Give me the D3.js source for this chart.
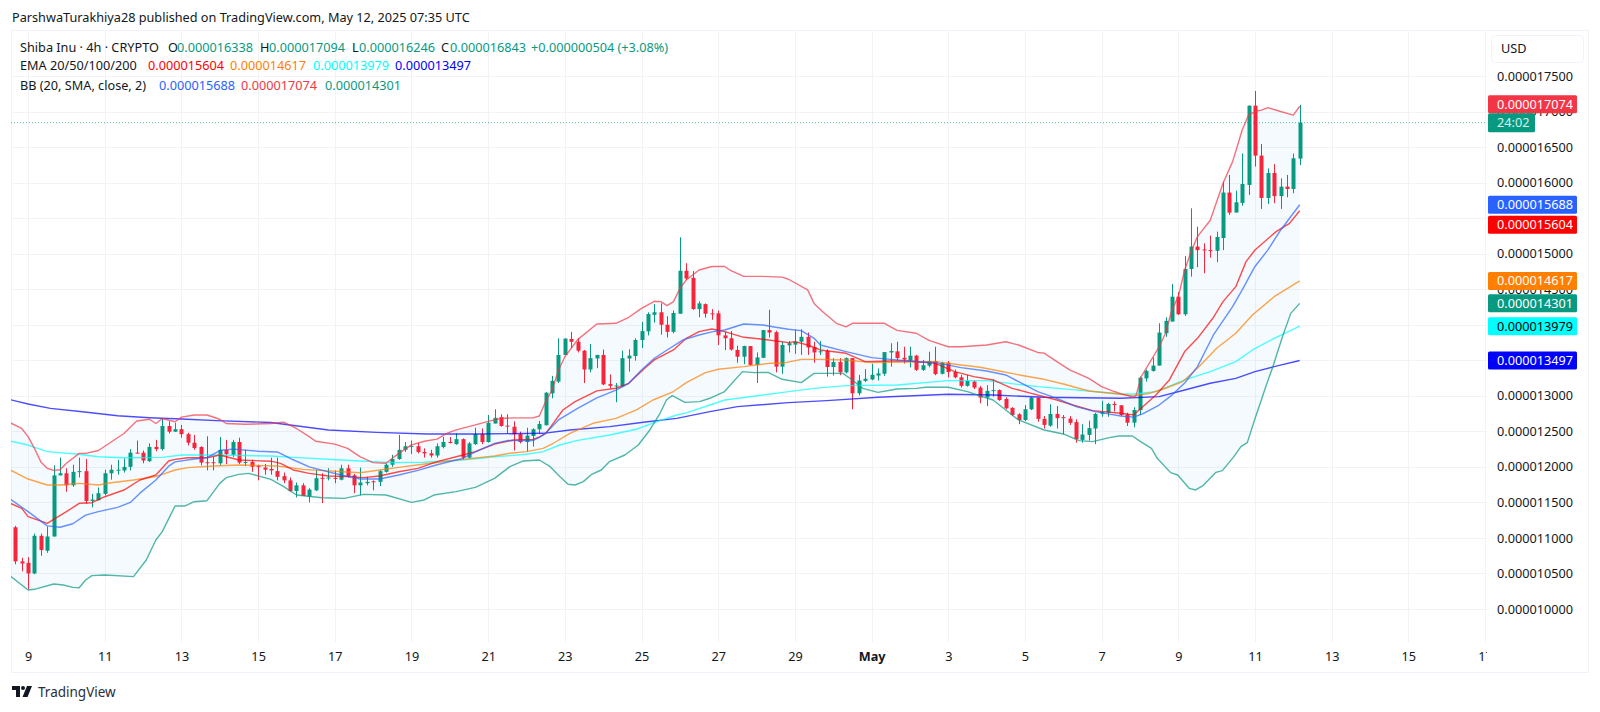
<!DOCTYPE html>
<html>
<head>
<meta charset="utf-8">
<title>Shiba Inu 4h</title>
<script src="https://cdn.jsdelivr.net/npm/d3@7"></script>
<style>
    html, body { margin: 0; padding: 0; background: #fff; }
    svg { display: block; }
    text { font-family: "Noto Sans", sans-serif; }
</style>
</head>
<body>
<svg id="chart" width="1600" height="712"></svg>
<script>
// prices are in millionths of a USD, index in the arrays = number of the 4h bar
var opens = [
    11.15,10.67,10.65,10.50,11.03,10.82,11.02,11.88,11.91,11.74,
    11.93,11.94,11.52,11.53,11.62,11.91,11.95,11.95,12.00,12.20,
    12.20,12.08,12.28,12.25,12.575,12.495,12.53,12.46,12.34,12.28,
    12.065,12.065,12.05,12.24,12.17,12.35,12.06,12.07,12.01,11.99,
    11.97,11.94,11.87,11.81,11.66,11.74,11.58,11.67,11.845,11.84,
    11.845,11.82,11.98,11.88,11.74,11.77,11.797,11.79,11.93,12.03,
    12.11,12.24,12.29,12.29,12.21,12.19,12.16,12.28,12.35,12.32,
    12.39,12.13,12.32,12.46,12.35,12.61,12.70,12.58,12.565,12.46,
    12.35,12.435,12.529,12.585,13.035,13.20,13.575,13.80,13.76,13.635,
    13.37,13.525,13.575,13.165,13.14,13.135,13.525,13.56,13.785,13.907,
    14.14,14.175,14.00,13.90,14.155,14.76,14.66,14.22,14.29,14.16,
    14.16,13.85,13.81,13.645,13.55,13.70,13.435,13.535,13.925,13.895,
    13.41,13.71,13.72,13.76,13.83,13.685,13.617,13.63,13.405,13.475,
    13.33,13.53,13.035,13.21,13.23,13.285,13.31,13.61,13.625,13.535,
    13.495,13.565,13.365,13.425,13.49,13.31,13.465,13.335,13.26,13.14,
    13.20,13.115,12.975,13.07,13.08,12.955,12.83,12.74,12.66,12.81,
    12.97,12.675,12.58,12.745,12.70,12.68,12.63,12.38,12.45,12.54,
    12.745,12.763,12.885,12.866,12.739,12.622,12.80,13.245,13.35,13.425,
    13.88,14.045,14.395,14.147,14.785,15.10,15.06,15.05,15.04,15.22,
    15.86,15.58,15.714,15.967,17.083,16.38,15.784,16.135,15.81,15.943,
    15.91,16.338
];
var highs = [
    11.17,10.72,10.73,11.06,11.06,11.16,12.02,12.13,11.98,12.03,
    12.13,12.11,11.62,11.71,11.96,12.03,12.10,12.12,12.25,12.37,
    12.23,12.33,12.38,12.68,12.64,12.62,12.59,12.48,12.45,12.29,
    12.43,12.14,12.42,12.38,12.38,12.41,12.24,12.10,12.03,12.04,
    12.13,12.13,11.92,11.85,11.78,11.77,11.70,11.96,11.91,11.98,
    11.95,12.03,12.03,11.90,11.99,11.86,11.81,11.96,12.05,12.17,
    12.45,12.35,12.37,12.34,12.26,12.24,12.33,12.42,12.42,12.47,
    12.40,12.35,12.55,12.54,12.73,12.81,12.74,12.74,12.64,12.495,
    12.55,12.543,12.646,13.05,13.28,13.81,13.81,13.90,13.81,13.645,
    13.73,13.575,13.65,13.30,13.18,13.635,13.655,13.81,14.04,14.175,
    14.29,14.30,14.12,14.20,15.23,14.865,14.755,14.33,14.30,14.22,
    14.20,13.90,13.91,13.705,13.705,13.70,13.61,13.925,14.21,13.915,
    13.76,13.77,13.93,13.935,13.89,13.76,13.77,13.655,13.53,13.53,
    13.54,13.53,13.295,13.375,13.45,13.385,13.615,13.74,13.76,13.69,
    13.69,13.575,13.505,13.62,13.69,13.48,13.49,13.37,13.295,13.295,
    13.22,13.14,13.15,13.23,13.09,12.98,12.84,12.755,12.87,12.985,
    12.98,12.715,12.88,12.855,12.73,12.715,12.67,12.60,12.65,12.76,
    12.93,12.90,12.92,12.87,12.763,12.838,13.27,13.37,13.54,14.02,
    14.105,14.574,14.46,14.968,15.638,15.38,15.146,15.254,15.31,16.014,
    16.107,15.887,16.41,17.083,17.29,16.544,16.20,16.26,16.06,16.107,
    16.41,17.094
];
var lows = [
    10.63,10.53,10.28,10.49,10.75,10.79,11.02,11.88,11.65,11.72,
    11.85,11.48,11.43,11.53,11.60,11.82,11.89,11.92,11.95,12.19,
    12.05,12.07,12.22,12.23,12.47,12.49,12.41,12.30,12.24,12.02,
    11.95,11.95,12.02,12.04,12.14,12.04,12.01,11.93,11.81,11.89,
    11.89,11.81,11.77,11.65,11.57,11.59,11.50,11.66,11.49,11.81,
    11.77,11.81,11.85,11.63,11.60,11.74,11.67,11.73,11.92,12.00,
    12.10,12.21,12.18,12.19,12.13,12.13,12.13,12.26,12.33,12.31,
    12.10,12.12,12.31,12.32,12.34,12.61,12.565,12.47,12.23,12.33,
    12.21,12.285,12.472,12.585,12.965,13.18,13.575,13.67,13.61,13.18,
    13.33,13.39,13.15,13.105,12.91,13.12,13.34,13.495,13.67,13.85,
    14.03,13.86,13.82,13.88,14.155,14.63,14.21,14.105,14.10,14.07,
    13.715,13.645,13.635,13.465,13.445,13.425,13.18,13.53,13.82,13.33,
    13.31,13.61,13.59,13.575,13.575,13.465,13.575,13.27,13.285,13.29,
    13.315,12.81,13.005,13.195,13.22,13.215,13.28,13.41,13.495,13.455,
    13.40,13.35,13.35,13.40,13.29,13.30,13.26,13.245,13.115,13.13,
    13.095,12.895,12.855,12.99,12.93,12.81,12.715,12.60,12.645,12.80,
    12.635,12.54,12.565,12.54,12.46,12.59,12.34,12.34,12.37,12.32,
    12.705,12.705,12.78,12.715,12.575,12.556,12.73,13.20,13.34,13.425,
    13.83,14.045,14.14,14.124,14.677,14.81,14.724,14.944,14.88,15.05,
    15.545,15.577,15.676,15.826,16.225,15.63,15.70,15.71,15.63,15.793,
    15.85,16.246
];
var closes = [
    10.67,10.64,10.50,11.03,10.83,11.02,11.88,11.91,11.74,11.93,
    11.94,11.52,11.54,11.63,11.91,11.96,11.96,12.00,12.20,12.19,
    12.09,12.28,12.25,12.575,12.495,12.53,12.46,12.34,12.265,12.06,
    12.06,12.06,12.24,12.18,12.35,12.06,12.07,12.00,12.00,11.96,
    11.95,11.86,11.81,11.66,11.74,11.59,11.68,11.84,11.838,11.85,
    11.84,11.98,11.86,11.74,11.78,11.79,11.79,11.94,12.03,12.11,
    12.24,12.29,12.295,12.21,12.19,12.16,12.29,12.35,12.345,12.39,
    12.13,12.33,12.46,12.35,12.62,12.69,12.575,12.57,12.46,12.35,
    12.44,12.529,12.604,13.044,13.21,13.575,13.805,13.76,13.635,13.37,
    13.53,13.575,13.16,13.14,13.145,13.53,13.565,13.785,13.91,14.15,
    14.175,14.00,13.90,14.165,14.76,14.65,14.22,14.30,14.155,14.155,
    13.85,13.81,13.65,13.55,13.70,13.435,13.54,13.925,13.89,13.41,
    13.715,13.74,13.76,13.83,13.68,13.61,13.626,13.405,13.475,13.33,
    13.53,13.035,13.215,13.24,13.295,13.315,13.615,13.63,13.53,13.51,
    13.565,13.365,13.43,13.49,13.305,13.465,13.335,13.26,13.14,13.21,
    13.115,12.975,13.07,13.08,12.94,12.825,12.73,12.66,12.81,12.975,
    12.675,12.59,12.745,12.685,12.695,12.62,12.39,12.455,12.545,12.745,
    12.77,12.885,12.87,12.73,12.622,12.80,13.255,13.35,13.425,13.89,
    14.055,14.395,14.147,14.785,15.10,15.05,15.05,15.046,15.235,15.86,
    15.577,15.723,15.98,17.083,16.38,15.784,16.135,15.81,15.943,15.91,
    16.342,16.843
];

// indicator lines as [bar, price]
var bbUpper = [[-1,12.63],[1,12.54],[2,12.425],[3,12.26],[4,12.07],[5,11.98],[6,11.95],[7,11.96],[8,12.05],[10,12.19],[11,12.19],[13,12.23],[15,12.35],[17,12.47],[19,12.645],[21,12.67],[22,12.61],[23,12.68],[25,12.635],[26,12.70],[28,12.73],[30,12.73],[32,12.67],[33,12.61],[36,12.60],[40,12.61],[42,12.63],[44,12.54],[46,12.425],[47,12.36],[50,12.32],[52,12.26],[54,12.14],[56,12.06],[58,12.05],[60,12.19],[62,12.31],[64,12.36],[66,12.39],[67.5,12.47],[69,12.52],[72,12.59],[74,12.64],[76,12.68],[78,12.69],[81,12.69],[82,12.716],[83,12.92],[84,13.08],[85,13.36],[86,13.55],[88,13.79],[91,14.01],[94,14.02],[96,14.105],[98,14.23],[100,14.33],[101,14.325],[102,14.27],[103,14.325],[104,14.51],[105,14.63],[107,14.77],[109,14.82],[111,14.82],[112,14.76],[114,14.68],[117,14.68],[120,14.67],[121,14.64],[124,14.49],[125,14.30],[126.4,14.18],[128.5,14.02],[130,13.97],[131,14.02],[134,14.02],[136,14.02],[138,13.92],[141,13.88],[143,13.78],[146,13.69],[148,13.69],[152,13.715],[155,13.76],[157,13.715],[160,13.61],[161,13.60],[163,13.48],[165,13.365],[168,13.245],[170,13.13],[172,13.06],[173,13.03],[175,12.98],[175.4,13.01],[176.2,13.27],[179,13.69],[180,13.88],[181,14.21],[182,14.395],[183,14.77],[184,15.03],[185,15.24],[187,15.47],[189,15.99],[190.5,16.295],[192,16.74],[193,16.95],[194,17.0],[195,17.02],[196,17.055],[198,17.0],[200,16.95],[201,17.074]];
var bbMiddle = [[-1,11.56],[2,11.37],[5,11.17],[7,11.15],[9,11.20],[11,11.32],[13,11.37],[16,11.43],[18,11.50],[19.5,11.63],[22,11.815],[24,12.01],[25,12.07],[28,12.11],[30,12.13],[32,12.23],[34,12.25],[38,12.22],[41,12.21],[43.5,12.10],[46,12.00],[49,11.93],[51,11.885],[54,11.83],[57,11.83],[60,11.885],[63,11.95],[66,12.03],[70,12.12],[72,12.21],[75,12.33],[77,12.37],[81,12.37],[82,12.416],[83,12.472],[85,12.66],[88,12.824],[91,12.97],[94,13.08],[96,13.176],[98,13.364],[100,13.528],[102,13.645],[104.5,13.786],[107,13.856],[109,13.90],[111,13.926],[114,14.01],[117,13.997],[119,13.964],[121,13.936],[123,13.917],[125,13.809],[126,13.715],[130,13.621],[134,13.537],[137,13.513],[141,13.48],[144,13.467],[148,13.396],[152,13.349],[155,13.293],[157,13.199],[160,13.059],[163,12.965],[166,12.847],[169,12.777],[171,12.745],[173,12.716],[175,12.70],[176.5,12.75],[179,12.87],[181,13.01],[183,13.18],[185,13.41],[187.5,13.856],[190.5,14.255],[192,14.49],[194,14.82],[196,15.05],[198,15.33],[201,15.688]];
var bbLower = [[-1,10.478],[2,10.267],[3,10.277],[6,10.352],[7.5,10.338],[9,10.305],[10,10.30],[11,10.408],[12,10.469],[14,10.478],[18.5,10.455],[20.5,10.689],[22,10.971],[23,11.088],[25,11.449],[26.5,11.449],[28,11.51],[30,11.524],[32,11.768],[33,11.848],[35,11.895],[36.5,11.909],[40,11.824],[42,11.721],[44,11.604],[48,11.566],[51.5,11.557],[54.5,11.613],[58,11.604],[62,11.501],[64,11.534],[65.5,11.604],[69,11.651],[72,11.712],[75,11.838],[77.4,12.003],[79.5,12.083],[82,12.097],[83.7,12.003],[85.2,11.863],[86.5,11.755],[87.6,11.745],[88.9,11.792],[90.2,11.895],[91.7,11.956],[93,12.074],[95.4,12.167],[97.5,12.308],[99.3,12.519],[100.9,12.754],[101.9,12.941],[102.8,13.002],[104.8,12.908],[107.1,12.918],[108.7,12.965],[111,13.06],[113.8,13.34],[115.5,13.326],[117.8,13.33],[120,13.232],[123,13.185],[125,13.316],[129.5,13.316],[131,13.223],[132.6,13.105],[135,13.049],[138,13.096],[141,13.105],[142.5,13.12],[146,13.12],[149,13.059],[151,12.998],[153,12.941],[155,12.801],[157,12.66],[161,12.519],[164,12.463],[166.5,12.369],[168.6,12.355],[171.2,12.411],[172.7,12.434],[174.8,12.434],[176.1,12.355],[177.8,12.261],[178.7,12.12],[180.8,11.919],[181.9,11.886],[183.7,11.698],[184.7,11.675],[185.8,11.731],[187.9,11.923],[188.9,11.947],[190.7,12.144],[191.8,12.284],[192.8,12.341],[194.1,12.706],[195,12.941],[195.7,13.13],[196.8,13.41],[198.3,13.83],[199.6,14.16],[201,14.301]];
var ema20 = [[-1,11.496],[1,11.416],[2,11.299],[5,11.205],[6,11.262],[8,11.369],[10,11.487],[12,11.496],[14,11.58],[17,11.674],[19.5,11.815],[22,11.885],[24,12.082],[25,12.106],[27,12.129],[30,12.129],[32,12.167],[35,12.096],[40,12.08],[41.5,12.05],[43.5,11.956],[46,11.909],[49,11.871],[52,11.862],[54.5,11.848],[57,11.871],[60,11.932],[63,11.979],[66,12.073],[69,12.143],[72,12.214],[75,12.321],[78,12.378],[81,12.387],[82,12.42],[83,12.472],[84,12.59],[85.7,12.80],[87.6,12.918],[91,13.07],[94,13.106],[96,13.176],[98.5,13.387],[100,13.504],[103,13.645],[105,13.809],[107,13.903],[109,13.94],[111,13.903],[114,13.823],[117,13.795],[121,13.748],[122,13.762],[124,13.715],[126,13.645],[130,13.598],[133,13.481],[137,13.49],[140,13.49],[144,13.457],[147,13.34],[150,13.27],[153,13.223],[156,13.105],[159,13.035],[163,12.941],[165.5,12.871],[168.6,12.791],[173,12.754],[175,12.731],[178.5,13.012],[180.6,13.223],[183,13.622],[185,13.809],[187.4,14.091],[189,14.325],[191,14.536],[192.6,14.888],[194,15.052],[197.3,15.31],[199.4,15.427],[201,15.604]];
var ema50 = [[-1,11.965],[2,11.829],[5,11.745],[7,11.745],[10,11.768],[13,11.745],[15,11.777],[18.5,11.815],[22,11.862],[25,11.956],[27,11.989],[31,12.012],[35,12.026],[41,12.012],[45,11.965],[54,11.918],[57,11.956],[60,11.993],[64,12.04],[70,12.106],[75,12.153],[77.4,12.191],[80,12.214],[82.6,12.261],[84.2,12.332],[86.8,12.472],[90.4,12.613],[94,12.683],[97.2,12.801],[99.8,12.941],[103,13.06],[105,13.185],[108,13.326],[110,13.373],[114,13.41],[118,13.457],[120,13.457],[123,13.513],[126,13.513],[130,13.504],[134,13.467],[137,13.471],[144,13.481],[148,13.434],[151,13.401],[154,13.349],[158,13.279],[161,13.232],[164,13.166],[168,13.068],[173,13.021],[175,12.998],[177.5,13.035],[180,13.106],[182.7,13.2],[185,13.387],[188,13.669],[191,13.88],[193.6,14.138],[197,14.395],[201,14.617]];
var ema100 = [[-1,12.368],[2,12.307],[5,12.214],[9.5,12.181],[13,12.143],[17,12.129],[23,12.134],[26,12.167],[31.5,12.167],[40,12.153],[43.5,12.134],[51,12.097],[59,12.059],[64,12.064],[70,12.097],[75,12.143],[77.4,12.158],[80,12.177],[82.6,12.214],[85.2,12.308],[87.8,12.369],[93,12.449],[97.2,12.529],[100.4,12.636],[103.5,12.73],[105,12.76],[108.7,12.871],[111,12.941],[117,13.012],[121,13.059],[125,13.105],[130,13.143],[138,13.152],[146,13.213],[152,13.213],[160,13.129],[165,13.091],[173,13.026],[175,13.026],[178.5,13.059],[183,13.223],[187,13.34],[191,13.481],[193.6,13.645],[197,13.809],[201,13.979]];
var ema200 = [[-1,12.95],[2,12.884],[5.5,12.823],[10.5,12.776],[16,12.72],[21,12.692],[26,12.673],[31.5,12.65],[40,12.625],[49,12.518],[56.5,12.486],[64.5,12.462],[72,12.462],[82.6,12.472],[86.8,12.519],[93,12.566],[98.3,12.627],[103.5,12.683],[108.7,12.777],[113,12.848],[121,12.904],[127,12.932],[135,12.979],[146,13.021],[153,13.012],[161,12.979],[173,12.965],[179,12.988],[183,13.082],[187,13.176],[191,13.246],[194,13.34],[197,13.411],[201,13.497]];

var priceTicks = [10,10.5,11,11.5,12,12.5,13,13.5,14,14.5,15,15.5,16,16.5,17,17.5];
// labels under the tags that the picture does not show at all
var hiddenTicks = [13.5,14,15.5];
// one date label every 12 bars, the first is Apr 9 00:00
var dateLabels = ['9','11','13','15','17','19','21','23','25','27','29','May','3','5','7','9','11','13','15','17'];
var dateBars = dateLabels.map(function(d, i) { return 2 + i * 12; });

var legendOhlc = [['O','0.000016338'],['H','0.000017094'],['L','0.000016246'],['C','0.000016843']];
var tagNames = ['bbUpper','bbMiddle','ema20','ema50','bbLower','ema100','ema200'];
var tagPrices = [17.074,15.688,15.604,14.617,14.301,13.979,13.497];
var lastPrice = 16.843;

var green = '#089981', red = '#f7253c';
var colors = {
    bbUpper: '#f23645', bbMiddle: '#2962ff', bbLower: '#089981',
    ema20: '#ff0000', ema50: '#ff7f00', ema100: '#00ffff', ema200: '#0000ff'
};
var tagNudge = { bbUpper: -2, ema20: 14 };

var svg = d3.select('#chart');
var paneLeft = 11, paneRight = 1487, paneTop = 30, paneBottom = 642;
var fontSize = 12.7;

var x = d3.scaleLinear().domain([-0.673, 230.31]).range([paneLeft, paneRight]);
var y = d3.scaleLinear().domain([10, 17.5]).range([609, 76]);
var fmt = function(p) { return (p * 1e-6).toFixed(9); };

svg.append('rect').attr('x', 11.5).attr('y', 30.5).attr('width', 1577).attr('height', 642)
    .attr('fill', '#fff').attr('stroke', '#f0f3fa');

var defs = svg.append('defs');
defs.append('clipPath').attr('id', 'pane').append('rect')
    .attr('x', paneLeft).attr('y', paneTop).attr('width', paneRight - paneLeft).attr('height', paneBottom - paneTop);
defs.append('clipPath').attr('id', 'dates').append('rect')
    .attr('x', paneLeft).attr('y', paneBottom).attr('width', paneRight - paneLeft).attr('height', 30);

// grid
var grid = svg.append('g').attr('stroke', '#f2f3f6').attr('stroke-width', 1);
grid.selectAll('.h').data(priceTicks).enter().append('line')
    .attr('x1', paneLeft).attr('x2', paneRight)
    .attr('y1', function(d) { return Math.round(y(d)) + 0.5; })
    .attr('y2', function(d) { return Math.round(y(d)) + 0.5; });
grid.selectAll('.v').data(dateBars).enter().append('line')
    .attr('y1', paneTop).attr('y2', paneBottom)
    .attr('x1', function(d) { return Math.round(x(d)) + 0.5; })
    .attr('x2', function(d) { return Math.round(x(d)) + 0.5; });

var pane = svg.append('g').attr('clip-path', 'url(#pane)');

var line = d3.line()
    .x(function(d) { return x(d[0]); })
    .y(function(d) { return y(d[1]); });

// band fill between upper and lower
pane.append('path')
    .attr('d', line(bbUpper.concat(bbLower.slice().reverse())) + 'Z')
    .attr('fill', '#2196f3').attr('fill-opacity', 0.05);

// last price line
pane.append('line').attr('x1', paneLeft).attr('x2', paneRight)
    .attr('y1', y(lastPrice)).attr('y2', y(lastPrice))
    .attr('stroke', green).attr('stroke-dasharray', '1 2').attr('stroke-opacity', 0.7);

// candles
var bars = d3.range(opens.length);
var candles = pane.selectAll('.candle').data(bars).enter().append('g');
candles.append('line')
    .attr('x1', function(i) { return Math.round(x(i)) + 0.5; })
    .attr('x2', function(i) { return Math.round(x(i)) + 0.5; })
    .attr('y1', function(i) { return y(highs[i]); })
    .attr('y2', function(i) { return y(lows[i]); })
    .attr('stroke', function(i) { return closes[i] >= opens[i] ? green : red; });
candles.append('rect')
    .attr('x', function(i) { return Math.round(x(i)) - 1.5; })
    .attr('width', 4)
    .attr('y', function(i) { return y(Math.max(opens[i], closes[i])); })
    .attr('height', function(i) { return Math.max(1, Math.abs(y(opens[i]) - y(closes[i]))); })
    .attr('fill', function(i) { return closes[i] >= opens[i] ? green : red; });

// indicators
[['ema200', ema200], ['ema100', ema100], ['ema50', ema50], ['ema20', ema20],
 ['bbUpper', bbUpper], ['bbMiddle', bbMiddle], ['bbLower', bbLower]].forEach(function(s) {
    pane.append('path')
        .attr('d', line(s[1]))
        .attr('fill', 'none')
        .attr('stroke', colors[s[0]])
        .attr('stroke-width', 1.4)
        .attr('stroke-opacity', 0.7)
        .attr('stroke-linejoin', 'round');
});

// axes
var yAxis = d3.axisRight(y)
    .tickValues(priceTicks.filter(function(d) { return hiddenTicks.indexOf(d) < 0; }))
    .tickFormat(fmt).tickSize(0).tickPadding(0);
var yG = svg.append('g').attr('transform', 'translate(1497,0)').call(yAxis);
yG.select('.domain').remove();
yG.selectAll('text').attr('font-size', fontSize).attr('fill', '#131722').style('font-family', '"Noto Sans", sans-serif');

var xAxis = d3.axisBottom(x).tickValues(dateBars)
    .tickFormat(function(d, i) { return dateLabels[i]; }).tickSize(0).tickPadding(0);
var xG = svg.append('g').attr('clip-path', 'url(#dates)').append('g')
    .attr('transform', 'translate(0,652)').call(xAxis);
xG.select('.domain').remove();
xG.selectAll('text').attr('font-size', fontSize).attr('fill', '#131722').style('font-family', '"Noto Sans", sans-serif');
xG.selectAll('.tick').filter(function(d, i) { return dateLabels[i] == 'May'; })
    .select('text').attr('font-weight', 'bold');

// price tags on the axis
var tags = svg.append('g');
tagNames.forEach(function(name, i) {
    var cy = y(tagPrices[i]) + (tagNudge[name] || 0);
    tags.append('rect').attr('x', 1488).attr('y', cy - 9).attr('width', 89).attr('height', 18)
        .attr('rx', 1.5).attr('fill', colors[name]);
    tags.append('text').attr('x', 1497).attr('y', cy + 4.5).attr('font-size', fontSize)
        .attr('fill', name == 'ema100' ? '#000' : '#fff').text(fmt(tagPrices[i]));
});
tags.append('rect').attr('x', 1488).attr('y', y(lastPrice) - 9.5).attr('width', 47).attr('height', 19)
    .attr('rx', 1.5).attr('fill', green);
tags.append('text').attr('x', 1497).attr('y', y(lastPrice) + 4.5).attr('font-size', fontSize)
    .attr('fill', '#d5efe9').text('24:02');

// USD box
svg.append('rect').attr('x', 1491.5).attr('y', 35.5).attr('width', 92).attr('height', 27).attr('rx', 4)
    .attr('fill', '#fff').attr('stroke', '#f0f3fa');
svg.append('text').attr('x', 1501).attr('y', 53).attr('font-size', fontSize).attr('fill', '#131722').text('USD');

// header and legend
function label(px, py, str, color) {
    svg.append('text').attr('x', px).attr('y', py).attr('font-size', fontSize)
        .attr('fill', color || '#131722').text(str);
}
label(12, 22, 'ParshwaTurakhiya28 published on TradingView.com, May 12, 2025 07:35 UTC');
label(20, 52, 'Shiba Inu \u00b7 4h \u00b7 CRYPTO');
var ohlcX = [168, 260, 352, 441];
legendOhlc.forEach(function(d, i) {
    label(ohlcX[i], 52, d[0]);
    label(ohlcX[i] + (d[0] == 'L' ? 7 : 9), 52, d[1], green);
});
label(531, 52, '+0.000000504 (+3.08%)', green);
label(20, 70, 'EMA 20/50/100/200');
label(148, 70, '0.000015604', colors.ema20);
label(230, 70, '0.000014617', colors.ema50);
label(313, 70, '0.000013979', colors.ema100);
label(395, 70, '0.000013497', colors.ema200);
label(20, 90, 'BB (20, SMA, close, 2)');
label(159, 90, '0.000015688', colors.bbMiddle);
label(241, 90, '0.000017074', colors.bbUpper);
label(325, 90, '0.000014301', colors.bbLower);

// footer logo
var logo = svg.append('g').attr('transform', 'translate(12,686)').attr('fill', '#131722');
logo.append('path').attr('d', 'M0 0H8V11H4V4H0Z');
logo.append('circle').attr('cx', 11).attr('cy', 2).attr('r', 2);
logo.append('path').attr('d', 'M15 0H20L15.5 11H10.5Z');
svg.append('text').attr('x', 38).attr('y', 697).attr('font-size', 13.5).attr('fill', '#2a2e39').text('TradingView');
</script>
</body>
</html>
